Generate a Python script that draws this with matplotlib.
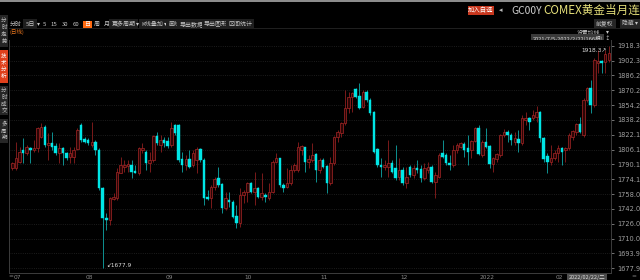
import matplotlib
matplotlib.use('Agg')
import matplotlib.pyplot as plt
from matplotlib.patches import Rectangle
import numpy as np

CJK = ['Noto Sans CJK SC', 'DejaVu Sans']

# ---------------- data (COMEX gold, daily, 2021/7/5 - 2022/2/22) ----------------
opens = [1785.9, 1785.9, 1793.1, 1805.7, 1802.1, 1808.2, 1805.7, 1807.5, 1820.1, 1830.9,
         1811.1, 1813.6, 1810.0, 1802.8, 1807.5, 1802.1, 1798.5, 1798.5, 1806.4, 1832.7,
         1817.2, 1816.5, 1811.1, 1814.7, 1805.7, 1764.3, 1731.9, 1730.1, 1752.4, 1753.5,
         1781.2, 1787.7, 1788.0, 1789.5, 1783.4, 1780.5, 1805.7, 1803.9, 1791.3, 1794.9,
         1820.8, 1811.1, 1816.5, 1815.8, 1811.1, 1832.7, 1832.7, 1795.6, 1789.5, 1795.6,
         1789.5, 1794.9, 1806.4, 1794.9, 1754.6, 1753.5, 1766.1, 1775.1, 1768.6, 1742.7,
         1751.7, 1749.9, 1734.4, 1726.5, 1757.1, 1760.7, 1770.4, 1760.7, 1764.3, 1755.3,
         1757.1, 1753.5, 1760.7, 1793.1, 1796.7, 1767.9, 1766.1, 1769.7, 1784.1, 1784.1,
         1805.7, 1808.6, 1793.1, 1794.9, 1801.4, 1784.1, 1794.9, 1788.4, 1769.7, 1791.3,
         1820.1, 1823.7, 1834.5, 1850.7, 1863.3, 1871.2, 1864.0, 1851.8, 1868.7, 1859.7,
         1847.1, 1806.4, 1789.5, 1787.7, 1787.7, 1791.3, 1785.9, 1776.9, 1784.1, 1769.7,
         1787.7, 1778.7, 1785.9, 1784.8, 1775.1, 1784.1, 1787.7, 1771.5, 1776.9, 1802.1,
         1800.3, 1791.3, 1789.5, 1805.7, 1809.3, 1811.8, 1807.5, 1805.7, 1815.4, 1829.8,
         1800.3, 1814.7, 1810.0, 1790.2, 1796.0, 1800.3, 1821.9, 1825.5, 1821.9, 1814.7,
         1817.6, 1812.9, 1838.1, 1839.9, 1839.9, 1841.7, 1847.1, 1818.3, 1799.6, 1792.4,
         1797.4, 1802.1, 1807.5, 1805.7, 1807.5, 1820.1, 1825.5, 1833.4, 1821.9, 1859.7,
         1873.0, 1854.3, 1899.3, 1901.8, 1901.1, 1902.9]
highs = [1793.1, 1814.7, 1809.3, 1818.3, 1811.1, 1809.3, 1816.5, 1830.9, 1834.5, 1832.7,
         1823.7, 1825.5, 1812.9, 1812.9, 1809.3, 1803.9, 1809.3, 1809.3, 1829.1, 1834.5,
         1820.1, 1818.3, 1836.3, 1816.5, 1807.5, 1766.1, 1737.3, 1755.3, 1758.9, 1785.9,
         1798.5, 1794.9, 1794.9, 1794.9, 1789.5, 1809.3, 1812.9, 1805.7, 1803.9, 1821.9,
         1825.5, 1821.9, 1820.1, 1820.1, 1836.3, 1833.5, 1833.5, 1803.9, 1800.3, 1805.7,
         1805.7, 1809.3, 1807.5, 1796.7, 1762.5, 1767.9, 1776.9, 1787.7, 1769.7, 1760.7,
         1760.7, 1751.7, 1746.3, 1764.3, 1762.5, 1771.5, 1771.5, 1782.3, 1766.1, 1780.5,
         1758.9, 1769.7, 1794.9, 1802.1, 1797.5, 1769.7, 1785.9, 1789.5, 1791.3, 1814.7,
         1811.1, 1809.3, 1800.3, 1812.9, 1802.1, 1796.7, 1796.7, 1789.5, 1798.5, 1821.0,
         1827.3, 1836.3, 1870.5, 1868.7, 1868.7, 1872.3, 1878.4, 1870.5, 1870.5, 1861.5,
         1848.0, 1807.5, 1796.7, 1794.9, 1816.5, 1794.9, 1811.1, 1796.7, 1787.7, 1787.7,
         1789.5, 1789.5, 1794.9, 1789.5, 1791.3, 1793.1, 1789.5, 1782.3, 1802.1, 1816.5,
         1802.1, 1800.3, 1811.1, 1812.9, 1814.7, 1814.7, 1821.9, 1816.5, 1830.9, 1832.7,
         1816.5, 1829.1, 1811.1, 1798.5, 1802.1, 1822.6, 1828.4, 1827.3, 1823.7, 1825.5,
         1827.3, 1843.5, 1847.1, 1841.7, 1848.9, 1853.6, 1847.8, 1820.1, 1802.1, 1811.1,
         1805.7, 1811.1, 1809.3, 1809.3, 1823.7, 1827.3, 1834.5, 1841.7, 1861.5, 1874.1,
         1881.3, 1904.7, 1913.7, 1902.9, 1913.7, 1918.3]
lows = [1784.1, 1784.1, 1791.3, 1791.3, 1800.3, 1791.3, 1803.9, 1803.9, 1818.3, 1809.3,
        1794.9, 1805.7, 1800.3, 1791.3, 1789.5, 1794.9, 1791.3, 1791.3, 1805.7, 1814.7,
        1812.9, 1811.1, 1809.3, 1800.3, 1762.5, 1677.9, 1719.3, 1724.7, 1751.7, 1751.7,
        1780.5, 1782.3, 1782.3, 1775.1, 1780.5, 1778.7, 1802.1, 1784.1, 1782.3, 1793.1,
        1811.1, 1803.9, 1809.3, 1807.5, 1809.3, 1821.9, 1793.1, 1782.3, 1784.1, 1785.9,
        1787.7, 1780.5, 1793.1, 1746.3, 1751.7, 1742.7, 1762.5, 1766.1, 1737.3, 1740.9,
        1744.5, 1731.9, 1721.1, 1722.9, 1748.1, 1749.9, 1758.9, 1746.3, 1753.5, 1751.7,
        1749.9, 1751.7, 1758.9, 1791.3, 1766.1, 1760.7, 1764.3, 1767.9, 1782.3, 1782.3,
        1800.3, 1782.3, 1785.9, 1793.1, 1771.5, 1780.5, 1785.9, 1758.9, 1767.9, 1789.5,
        1814.7, 1820.1, 1832.7, 1845.3, 1847.1, 1861.5, 1849.5, 1850.7, 1857.9, 1843.5,
        1802.1, 1787.7, 1776.9, 1784.1, 1776.9, 1780.5, 1773.3, 1773.3, 1767.9, 1764.3,
        1776.9, 1775.1, 1780.5, 1771.5, 1773.3, 1780.5, 1769.7, 1753.5, 1775.1, 1796.7,
        1789.5, 1784.1, 1787.7, 1802.1, 1807.5, 1798.5, 1789.5, 1796.7, 1814.7, 1800.3,
        1798.5, 1807.5, 1785.9, 1782.3, 1793.1, 1798.5, 1820.1, 1814.7, 1811.1, 1811.1,
        1803.9, 1811.1, 1832.7, 1827.3, 1838.1, 1836.3, 1814.7, 1793.1, 1780.5, 1789.5,
        1794.9, 1793.1, 1789.5, 1793.1, 1805.7, 1816.5, 1821.9, 1823.7, 1820.1, 1857.9,
        1845.3, 1852.5, 1888.5, 1888.5, 1888.5, 1901.1]
closes = [1792.0, 1796.7, 1803.9, 1802.1, 1809.3, 1805.7, 1808.2, 1829.1, 1830.9, 1811.1,
          1813.6, 1809.3, 1802.8, 1807.5, 1802.1, 1796.7, 1802.8, 1805.7, 1827.3, 1816.5,
          1814.7, 1812.9, 1814.7, 1805.7, 1764.3, 1731.9, 1730.1, 1753.5, 1755.3, 1782.3,
          1789.5, 1789.5, 1790.2, 1782.3, 1781.2, 1807.5, 1807.5, 1792.0, 1794.9, 1820.8,
          1812.9, 1816.5, 1812.9, 1810.0, 1829.1, 1823.7, 1794.9, 1789.5, 1795.6, 1787.7,
          1802.1, 1806.4, 1794.9, 1753.5, 1753.1, 1766.1, 1774.0, 1767.9, 1742.7, 1753.5,
          1749.9, 1733.7, 1726.5, 1757.1, 1760.7, 1769.7, 1760.7, 1764.3, 1755.3, 1758.9,
          1754.6, 1760.7, 1793.1, 1796.7, 1767.9, 1764.3, 1769.7, 1784.1, 1789.5, 1809.3,
          1810.0, 1793.1, 1795.6, 1800.3, 1784.1, 1794.9, 1787.7, 1769.7, 1792.0, 1820.1,
          1825.5, 1834.5, 1850.7, 1863.3, 1866.9, 1863.3, 1850.7, 1868.7, 1859.7, 1845.3,
          1803.9, 1789.5, 1787.7, 1789.5, 1791.3, 1782.3, 1775.1, 1784.1, 1769.7, 1776.9,
          1778.7, 1785.9, 1784.1, 1775.1, 1785.9, 1787.7, 1771.5, 1778.7, 1800.3, 1798.5,
          1791.3, 1789.5, 1805.7, 1811.1, 1812.9, 1805.7, 1803.9, 1815.4, 1829.8, 1801.0,
          1814.7, 1809.3, 1790.2, 1796.7, 1801.0, 1821.9, 1825.5, 1821.9, 1816.5, 1818.3,
          1812.9, 1839.9, 1839.9, 1835.6, 1843.5, 1847.1, 1818.3, 1796.0, 1792.4, 1797.4,
          1802.1, 1807.5, 1803.9, 1808.2, 1821.9, 1826.2, 1833.4, 1825.5, 1859.7, 1872.3,
          1854.3, 1902.9, 1901.8, 1899.3, 1909.0, 1910.1]

yticks = [1677.9, 1693.9, 1710.0, 1726.0, 1742.0, 1758.0, 1774.1, 1790.1,
          1806.1, 1822.1, 1838.2, 1854.2, 1870.2, 1886.2, 1902.3, 1918.3]
month_start = [0, 20, 42, 64, 85, 107, 129, 150]
month_labels = ['07', '08', '09', '10', '11', '12', '2022', '02']

o = np.array(opens); h = np.array(highs); l = np.array(lows); c = np.array(closes)
n = len(c)
x = np.arange(n)
up = c >= o
dn = ~up

RED_EDGE = '#a82626'
RED_FACE = '#2a0505'
RED_WICK = '#8e1e1e'
CY_BODY = '#00e6e6'
CY_WICK = '#10a8a8'

fig = plt.figure(figsize=(6.4, 2.8), dpi=100, facecolor='black')

# overlay axes in pixel coordinates for UI chrome
ov = fig.add_axes([0, 0, 1, 1])
ov.set_xlim(0, 640)
ov.set_ylim(280, 0)
ov.axis('off')

# top thin gray border
ov.add_patch(Rectangle((0, 0), 640, 1.5, facecolor='#8c8c8c', edgecolor='none'))

# title row
ov.add_patch(Rectangle((468, 5.5), 26, 9, facecolor='#c8371e', edgecolor='none'))
ov.text(481, 10, '加入自选', color='white', fontsize=4.6, ha='center', va='center', family=CJK)
ov.text(501, 10.3, '◂', color='#bbbbbb', fontsize=5, ha='center', va='center', family=CJK)
ov.text(511, 10.5, 'GC00Y', color='#cfcfcf', fontsize=7.4, ha='left', va='center', family=CJK)
ov.text(543, 10.5, 'COMEX黄金当月连续', color='#e6e07a', fontsize=8.4, ha='left', va='center',
        family=CJK, clip_on=True)

# toolbar row
ov.plot([9, 640], [28, 28], color='#262626', lw=0.6)
toolbar = [('分时', 16, None), ('5日', 30, '#1e1e1e'), ('▾', 38, None), ('5', 44, None),
           ('15', 54, None), ('30', 65, None), ('60', 76, None), ('周', 97, None),
           ('月', 107, None), ('更多周期', 123.5, '#1e1e1e'), ('▾', 137, None),
           ('K线叠加', 152.5, '#1e1e1e'), ('▾', 165, None), ('画线', 174, '#1e1e1e'),
           ('导出数据', 191.5, '#1e1e1e'), ('导出图形', 216, '#1e1e1e'), ('区间统计', 240, '#1e1e1e')]
for t, xp, bg in toolbar:
    kw = {}
    if bg:
        kw['bbox'] = dict(boxstyle='square,pad=0.35', facecolor=bg, edgecolor='none')
    ov.text(xp, 24, t, color='#c8c8c8', fontsize=4.3, ha='center', va='center', family=CJK, **kw)
ov.add_patch(Rectangle((83, 20.5), 9, 7, facecolor='#ff6a10', edgecolor='none'))
ov.text(87.5, 24, '日', color='white', fontsize=4.3, ha='center', va='center', family=CJK)
ov.text(10, 31.5, '(日线)', color='#e8761e', fontsize=4, ha='left', va='center', family=CJK)

# right-side controls
ov.text(605, 23.5, '前复权', color='#c8c8c8', fontsize=4.2, ha='center', va='center', family=CJK,
        bbox=dict(boxstyle='square,pad=0.35', facecolor='#262626', edgecolor='none'))
ov.text(630, 23.5, '隐藏 ▾', color='#c8c8c8', fontsize=4.2, ha='center', va='center', family=CJK,
        bbox=dict(boxstyle='square,pad=0.35', facecolor='#262626', edgecolor='none'))
ov.text(600, 32, '设置均线', color='#c8c8c8', fontsize=4.2, ha='right', va='center', family=CJK)
ov.text(607, 32, '▾', color='#c8c8c8', fontsize=4.2, ha='center', va='center', family=CJK)
ov.text(603, 38.5, '2021/7/5-2022/2/22(166根)', color='#d8d8d8', fontsize=4.1, ha='right',
        va='center', family=CJK,
        bbox=dict(boxstyle='square,pad=0.2', facecolor='#3a3a3a', edgecolor='none'))
ov.plot([542, 603], [41.2, 41.2], color='#bbbbbb', lw=0.3)
ov.text(607, 38.5, '↕', color='#c8c8c8', fontsize=4, ha='center', va='center', family=CJK)

# left vertical tabs
tabs = [('分时走势', 15, 47, '#262626', '#c0c0c0'),
        ('技术分析', 50, 83, '#e0401c', '#ffffff'),
        ('分时成交', 86, 115, '#262626', '#c0c0c0'),
        ('多周期', 119, 143, '#262626', '#c0c0c0')]
for t, y0, y1, bg, fg in tabs:
    ov.add_patch(Rectangle((0, y0), 8, y1 - y0, facecolor=bg, edgecolor='none'))
    step = 6.8
    start = (y0 + y1) / 2 - step * (len(t) - 1) / 2
    for k, ch in enumerate(t):
        ov.text(4, start + k * step, ch, color=fg, fontsize=4, ha='center', va='center', family=CJK)

# bottom chrome
ov.text(11, 277, '=', color='#8a8a8a', fontsize=4.2, ha='center', va='center')
ov.text(587, 277, '2022/02/22/二', color='#dcdcdc', fontsize=4, ha='center', va='center', family=CJK,
        bbox=dict(boxstyle='square,pad=0.25', facecolor='#4e4e4e', edgecolor='none'))
ov.text(634, 277, '=', color='#8a8a8a', fontsize=4.2, ha='center', va='center')

# ---------------- main chart ----------------
ax = fig.add_axes([9 / 640, (280 - 272.7) / 280, (611 - 9) / 640, (272.7 - 40) / 280], facecolor='black')
ax.set_xlim(-0.91, 165.6)
ax.set_ylim(1673.1, 1924.5)

for yv in yticks:
    ax.axhline(yv, color='#2e2e2e', lw=0.5, linestyle=(0, (1.2, 2)), zorder=1)

ax.vlines(x[up], l[up], h[up], color=RED_WICK, lw=0.6, zorder=2)
ax.vlines(x[dn], l[dn], h[dn], color=CY_WICK, lw=0.6, zorder=2)
ax.bar(x[up], np.maximum(c[up] - o[up], 0.8), bottom=o[up], width=0.7,
       facecolor=RED_FACE, edgecolor=RED_EDGE, linewidth=0.5, zorder=3)
ax.bar(x[dn], np.maximum(o[dn] - c[dn], 0.8), bottom=c[dn], width=0.7,
       facecolor=CY_BODY, edgecolor=CY_BODY, linewidth=0.3, zorder=3)

# extreme labels
imin = int(np.argmin(l)); imax = int(np.argmax(h))
ax.text(imin + 0.9, l[imin] + 2.6, '↙' + f'{l[imin]:.1f}', color='#dddddd', fontsize=4.2,
        ha='left', va='center')
ax.text(imax - 0.5, h[imax] - 4.8, f'{h[imax]:.1f}' + '↗', color='#dddddd', fontsize=4.2,
        ha='right', va='center')

# axes styling
ax.yaxis.tick_right()
ax.set_yticks(yticks)
ax.set_yticklabels([f'{v:.1f}' for v in yticks])
ax.tick_params(axis='y', colors='#a0a0a0', labelsize=4.8, length=2.5, width=0.5, pad=2)
ax.set_xticks([m + 0.3 for m in month_start])
ax.set_xticklabels(month_labels)
for lab in ax.get_xticklabels():
    lab.set_horizontalalignment('left')
ax.tick_params(axis='x', colors='#8a8a8a', labelsize=4.2, length=0, pad=1.6)
for s in ['top']:
    ax.spines[s].set_visible(False)
for s in ['left', 'right', 'bottom']:
    ax.spines[s].set_color('#3c3c3c')
    ax.spines[s].set_linewidth(0.7)

fig.savefig('out.png', dpi=100, facecolor='black')
